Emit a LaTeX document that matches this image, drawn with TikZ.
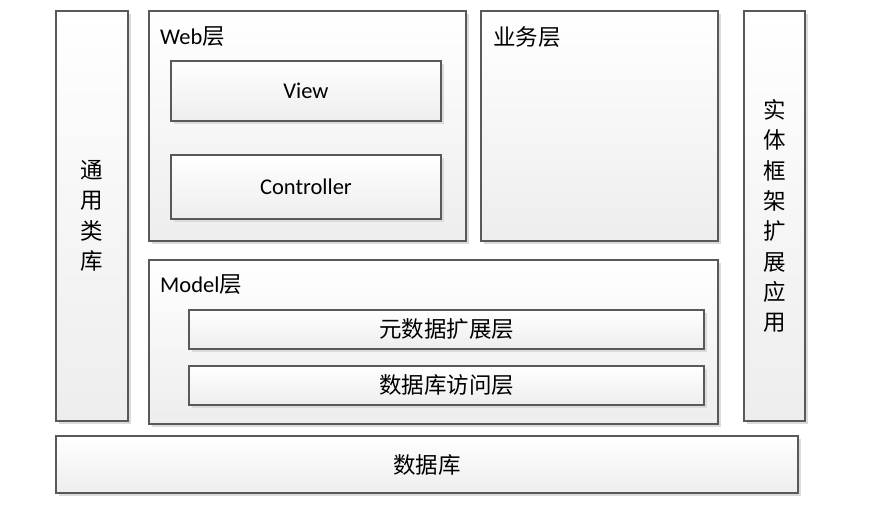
\documentclass[tikz,border=0pt]{standalone}
\usepackage{fontspec}
\setmainfont{Carlito}
\newfontfamily\cjk{Noto Sans CJK SC}
\usetikzlibrary{shadows}
\tikzstyle{layer} = [rectangle, draw=black!65, line width=1.2pt, top color=white, bottom color=black!7, inner sep=0pt, outer sep=0pt, drop shadow={shadow xshift=3pt, shadow yshift=-3pt, fill=black!14, opacity=1}, align=center, font=\fontsize{22.5}{30.3}\selectfont]
\tikzstyle{title} = [anchor=west, inner sep=0pt, font=\fontsize{22.5}{27}\selectfont]

\begin{document}
\begin{tikzpicture}[x=1pt, y=-1pt]
\useasboundingbox (0,0) rectangle (888,510);

\node at (92, 216) (tongyong) [layer, minimum width=72pt, minimum height=410pt] {\cjk 通\\\cjk 用\\\cjk 类\\\cjk 库};
\node at (307.5, 126) (web) [layer, minimum width=317pt, minimum height=230pt] {};
\node at (306, 91) (view) [layer, minimum width=270pt, minimum height=60pt] {View};
\node at (306, 187) (controller) [layer, minimum width=270pt, minimum height=64pt] {Controller};
\node at (599.5, 126) (yewu) [layer, minimum width=237pt, minimum height=230pt] {};
\node at (774.5, 216) (shiti) [layer, minimum width=61pt, minimum height=410pt] {\cjk 实\\\cjk 体\\\cjk 框\\\cjk 架\\\cjk 扩\\\cjk 展\\\cjk 应\\\cjk 用};
\node at (433.5, 342) (model) [layer, minimum width=569pt, minimum height=164pt] {};
\node at (446.5, 329.5) (meta) [layer, minimum width=515pt, minimum height=39pt] {\cjk 元数据扩展层};
\node at (446.5, 385.5) (access) [layer, minimum width=515pt, minimum height=39pt] {\cjk 数据库访问层};
\node at (427, 464.5) (db) [layer, minimum width=742pt, minimum height=57pt] {\cjk 数据库};

% layer titles
\node at (160, 37) (webtitle) [title] {Web{\cjk 层}};
\node at (493, 37) (yewutitle) [title] {\cjk 业务层};
\node at (160, 285) (modeltitle) [title] {Model{\cjk 层}};

\end{tikzpicture}
\end{document}
